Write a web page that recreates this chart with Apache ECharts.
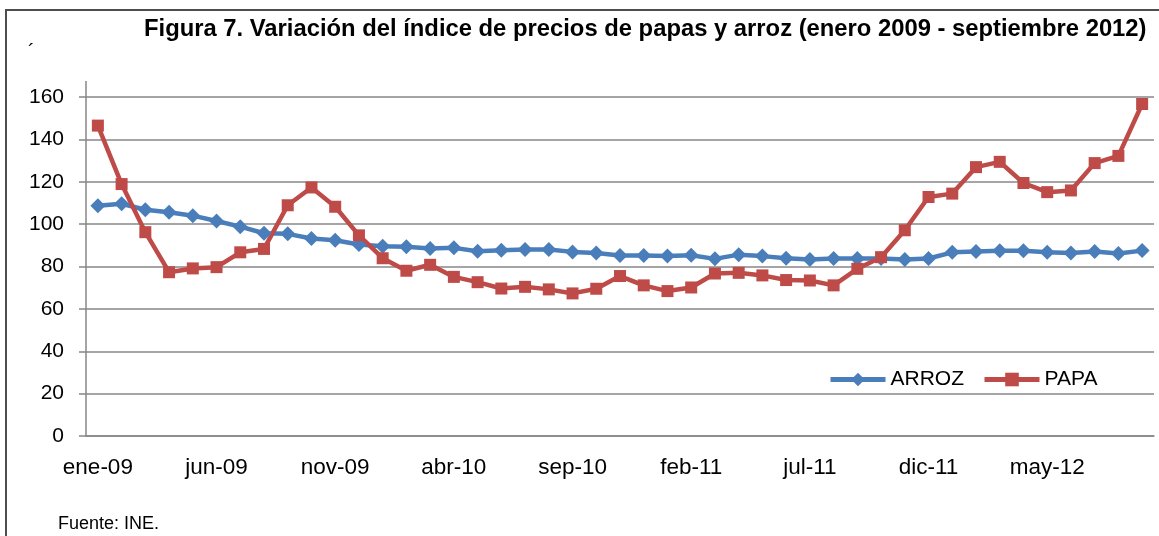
<!DOCTYPE html>
<html>
<head>
<meta charset="utf-8">
<script src="https://cdn.jsdelivr.net/npm/echarts@6/dist/echarts.min.js"></script>
<style>
  html, body { margin: 0; padding: 0; background: #fff; }
  #chart { width: 1159px; height: 536px; }
</style>
</head>
<body>
<div id="chart"></div>
<script>
// meses ene-09 .. sep-12
const months = [
  'ene-09', 'feb-09', 'mar-09', 'abr-09', 'may-09', 'jun-09', 'jul-09', 'ago-09', 'sep-09', 'oct-09', 'nov-09', 'dic-09',
  'ene-10', 'feb-10', 'mar-10', 'abr-10', 'may-10', 'jun-10', 'jul-10', 'ago-10', 'sep-10', 'oct-10', 'nov-10', 'dic-10',
  'ene-11', 'feb-11', 'mar-11', 'abr-11', 'may-11', 'jun-11', 'jul-11', 'ago-11', 'sep-11', 'oct-11', 'nov-11', 'dic-11',
  'ene-12', 'feb-12', 'mar-12', 'abr-12', 'may-12', 'jun-12', 'jul-12', 'ago-12', 'sep-12'
]

const arroz = [
  108.7, 109.6, 106.8, 105.6, 104.0, 101.5, 98.8, 95.7, 95.4, 93.2, 92.4, 90.4, 89.6, 89.3, 88.5,
  88.8, 87.2, 87.7, 88.0, 88.0, 86.9, 86.4, 85.2, 85.2, 85.0, 85.3, 83.6, 85.6, 84.9, 83.9,
  83.3, 83.8, 83.8, 83.8, 83.3, 83.8, 86.7, 87.1, 87.4, 87.4, 86.7, 86.4, 87.1, 86.1, 87.5
]

const papa = [
  146.5, 118.9, 96.2, 77.3, 79.1, 79.7, 86.7, 88.3, 108.9, 117.3, 108.2, 94.7, 83.9, 78.0, 80.8,
  75.1, 72.6, 69.6, 70.4, 69.2, 67.3, 69.5, 75.5, 71.1, 68.4, 70.1, 76.7, 77.0, 75.8, 73.6,
  73.4, 71.1, 78.9, 84.4, 97.1, 112.8, 114.4, 126.9, 129.4, 119.4, 115.1, 115.9, 128.8, 132.2, 156.7
]

const yTicks = { min: 0, max: 160, interval: 20 }

const font = '"Liberation Sans", Arial, sans-serif'
const gray = '#878787'
const blue = '#4A7EBB'
const red = '#BE4B48'

const chart = echarts.init(document.getElementById('chart'))

chart.setOption({
  animation: false,
  backgroundColor: '#fff',
  title: {
    text: 'Figura 7. Variación del índice de precios de papas y arroz (enero 2009 - septiembre 2012)',
    left: 144,
    top: 17,
    padding: 0,
    textStyle: { fontFamily: font, fontSize: 23.8, fontWeight: 'bold', color: '#000' },
  },
  legend: {
    left: 828,
    top: 369,
    padding: 0,
    itemWidth: 55,
    itemHeight: 17,
    itemGap: 18,
    textStyle: { fontFamily: font, fontSize: 21, color: '#000' },
    data: [
      { name: 'ARROZ', lineStyle: { width: 5 } },
      { name: 'PAPA', lineStyle: { width: 5 } },
    ],
  },
  grid: { left: 86, right: 5, top: 97, bottom: 100 },
  xAxis: {
    type: 'category',
    data: months,
    boundaryGap: true,
    axisLine: { lineStyle: { color: gray, width: 1.5 } },
    axisTick: { interval: 4, length: 7, lineStyle: { color: gray, width: 1.5 } },
    axisLabel: { interval: 4, margin: 20, fontFamily: font, fontSize: 22.5, color: '#000' },
    splitLine: { show: false },
  },
  yAxis: {
    type: 'value',
    min: yTicks.min,
    max: yTicks.max,
    interval: yTicks.interval,
    axisLine: { show: true, lineStyle: { color: gray, width: 1.5 } },
    axisTick: { show: true, length: 7, lineStyle: { color: gray, width: 1.5 } },
    axisLabel: { margin: 22, fontFamily: font, fontSize: 21, color: '#000' },
    splitLine: { lineStyle: { color: gray, width: 1.5 } },
  },
  series: [
    {
      name: 'ARROZ',
      type: 'line',
      data: arroz,
      symbol: 'diamond',
      symbolSize: 15,
      itemStyle: { color: blue },
      lineStyle: { color: blue, width: 4.5 },
    },
    {
      name: 'PAPA',
      type: 'line',
      data: papa,
      symbol: 'rect',
      symbolSize: 12,
      itemStyle: { color: red },
      lineStyle: { color: red, width: 4.5 },
    },
  ],
  graphic: [
    // marco
    { type: 'line', shape: { x1: 5, y1: 10, x2: 1159, y2: 10 }, style: { stroke: '#4d4d4d', lineWidth: 2 } },
    { type: 'line', shape: { x1: 6, y1: 10, x2: 6, y2: 536 }, style: { stroke: '#4d4d4d', lineWidth: 2 } },
    // eje y sobre 160
    { type: 'line', shape: { x1: 86, y1: 81, x2: 86, y2: 97 }, style: { stroke: gray, lineWidth: 1.5 } },
    { type: 'text', left: 28, top: 42, style: { text: '´', font: '20px ' + font, fill: '#000' } },
    { type: 'text', left: 58, top: 515, style: { text: 'Fuente: INE.', font: '18px ' + font, fill: '#000' } },
  ],
})
</script>
</body>
</html>
